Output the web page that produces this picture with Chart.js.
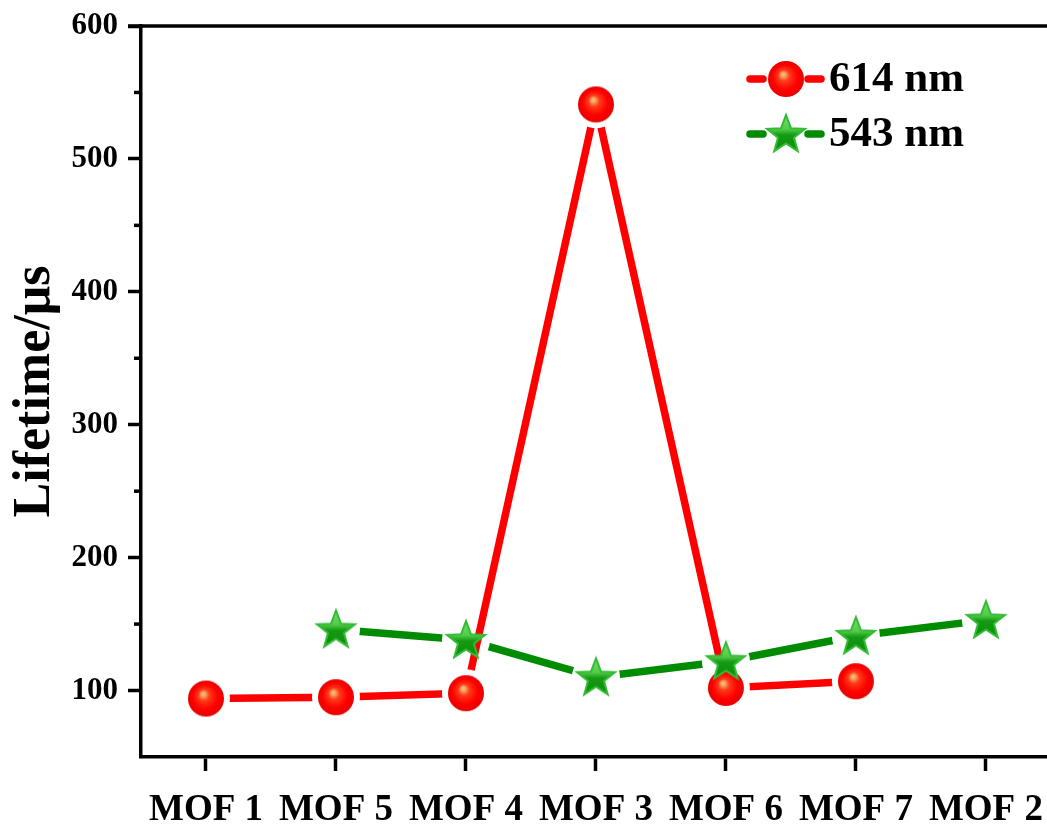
<!DOCTYPE html>
<html>
<head>
<meta charset="utf-8">
<title>Lifetime</title>
<script src="https://cdn.jsdelivr.net/npm/chart.js@4.4.1/dist/chart.umd.min.js"></script>
<style>
  html, body { margin: 0; padding: 0; background: #fff; }
  #wrap { width: 1047px; height: 828px; position: relative; }
</style>
</head>
<body>
<div id="wrap"><canvas id="lifeChart"></canvas></div>
<script>
// data
const categories = ['MOF 1', 'MOF 5', 'MOF 4', 'MOF 3', 'MOF 6', 'MOF 7', 'MOF 2'];
const red614 = [94, 95, 98, 541, 102, 107, null];
const green543 = [null, 146, 138, 110, 122, 141, 153];
const seriesNames = ['614 nm', '543 nm'];
const yTicks = [100, 200, 300, 400, 500, 600];

const FONT = '"Liberation Serif", "Times New Roman", serif';
const RED = '#ff0000';
const GREEN = '#008c00';

// marker images
function makeSphere(r) {
  const c = document.createElement('canvas');
  c.width = c.height = r * 2 + 2;
  const g = c.getContext('2d');
  const cx = r + 1, cy = r + 1;
  const grad = g.createRadialGradient(cx - 3, cy - 5, 0, cx, cy, r);
  grad.addColorStop(0, '#f4cc72');
  grad.addColorStop(0.13, '#f7a062');
  grad.addColorStop(0.32, '#ff3a18');
  grad.addColorStop(0.7, '#ff0000');
  grad.addColorStop(1, '#e80000');
  g.fillStyle = grad;
  g.beginPath();
  g.arc(cx, cy, r, 0, Math.PI * 2);
  g.fill();
  return c;
}

function makeStar(R) {
  const c = document.createElement('canvas');
  c.width = c.height = R * 2 + 4;
  const g = c.getContext('2d');
  const cx = R + 2, cy = R + 3;
  const r = R * 0.42;
  g.beginPath();
  for (let i = 0; i < 10; i++) {
    const a = -Math.PI / 2 + i * Math.PI / 5;
    const rad = i % 2 === 0 ? R : r;
    const px = cx + rad * Math.cos(a), py = cy + rad * Math.sin(a);
    if (i === 0) g.moveTo(px, py); else g.lineTo(px, py);
  }
  g.closePath();
  const grad = g.createLinearGradient(0, cy - R, 0, cy + R);
  grad.addColorStop(0, '#6ee06a');
  grad.addColorStop(0.35, '#55cc4c');
  grad.addColorStop(0.5, '#149a14');
  grad.addColorStop(1, '#0a8a0a');
  g.fillStyle = grad;
  g.fill();
  g.lineWidth = 2;
  g.strokeStyle = '#33bb33';
  g.stroke();
  return c;
}

const sphereImg = makeSphere(18);
const starImg = makeStar(20);

function toPoints(arr) {
  return arr.map((v, i) => ({ x: i + 1, y: v }));
}

// cut a small gap in a series line around its own markers
const gapPlugin = {
  id: 'gapLines',
  beforeDatasetDraw(chart, args) {
    const ds = chart.data.datasets[args.index];
    if (!ds.gap) return;
    const ctx = chart.ctx;
    ctx.save();
    ctx.beginPath();
    ctx.rect(0, 0, chart.width, chart.height);
    args.meta.data.forEach(pt => {
      if (pt.skip || isNaN(pt.y)) return;
      ctx.moveTo(pt.x + ds.gap, pt.y);
      ctx.arc(pt.x, pt.y, ds.gap, 0, Math.PI * 2, true);
    });
    ctx.clip('evenodd');
  },
  afterDatasetDraw(chart, args) {
    const ds = chart.data.datasets[args.index];
    if (ds.gap) chart.ctx.restore();
  }
};

// top frame line, minor y ticks and the legend
const framePlugin = {
  id: 'frame',
  afterDraw(chart) {
    const ctx = chart.ctx;
    const area = chart.chartArea;
    const y = chart.scales.y;
    ctx.save();
    ctx.strokeStyle = '#000';
    ctx.lineWidth = 3.5;
    ctx.beginPath();
    ctx.moveTo(area.left - 13, area.top);
    ctx.lineTo(chart.width, area.top);
    ctx.stroke();
    // minor ticks
    for (let v = 150; v < 600; v += 100) {
      const py = y.getPixelForValue(v);
      ctx.beginPath();
      ctx.moveTo(area.left - 7, py);
      ctx.lineTo(area.left, py);
      ctx.stroke();
    }
    // legend
    const rows = [
      { name: seriesNames[0], color: RED, img: sphereImg, y: 79 },
      { name: seriesNames[1], color: GREEN, img: starImg, y: 134 }
    ];
    ctx.lineCap = 'round';
    ctx.lineWidth = 7.5;
    rows.forEach(row => {
      ctx.strokeStyle = row.color;
      ctx.beginPath();
      ctx.moveTo(750, row.y); ctx.lineTo(763, row.y);
      ctx.moveTo(808, row.y); ctx.lineTo(821, row.y);
      ctx.stroke();
      ctx.drawImage(row.img, 786 - row.img.width / 2, row.y - row.img.height / 2);
      ctx.fillStyle = '#000';
      ctx.font = 'bold 43px ' + FONT;
      ctx.textBaseline = 'middle';
      ctx.textAlign = 'left';
      ctx.fillText(row.name, 829, row.y + 1);
    });
    ctx.restore();
  }
};

const ctx = document.getElementById('lifeChart').getContext('2d');
new Chart(ctx, {
  type: 'line',
  data: {
    datasets: [
      {
        label: seriesNames[1] + ' points',
        data: toPoints(green543),
        showLine: false,
        pointStyle: starImg,
        pointRadius: 20
      },
      {
        label: seriesNames[0] + ' points',
        data: toPoints(red614),
        showLine: false,
        pointStyle: sphereImg,
        pointRadius: 18
      },
      {
        label: seriesNames[0],
        data: toPoints(red614),
        borderColor: RED,
        borderWidth: 7.5,
        borderCapStyle: 'round',
        pointRadius: 0,
        tension: 0,
        gap: 24
      },
      {
        label: seriesNames[1],
        data: toPoints(green543),
        borderColor: GREEN,
        borderWidth: 7.5,
        borderCapStyle: 'round',
        pointRadius: 0,
        tension: 0,
        gap: 24
      }
    ]
  },
  options: {
    responsive: true,
    maintainAspectRatio: false,
    animation: false,
    events: [],
    layout: { autoPadding: false, padding: { top: 26, right: 0, left: 0, bottom: 0 } },
    plugins: {
      legend: { display: false },
      tooltip: { enabled: false }
    },
    scales: {
      x: {
        type: 'linear',
        min: 0.5,
        max: 7.47,
        afterBuildTicks(scale) {
          scale.ticks = categories.map((c, i) => ({ value: i + 1 }));
        },
        afterFit(scale) {
          scale.height = 71;
          scale.paddingLeft = 0;
          scale.paddingRight = 0;
        },
        border: { display: true, color: '#000', width: 3.5 },
        grid: { drawOnChartArea: false, tickLength: 14, tickWidth: 3.5, tickColor: '#000' },
        ticks: {
          autoSkip: false,
          maxRotation: 0,
          padding: 17,
          color: '#000',
          font: { family: FONT, size: 37, weight: 'bold' },
          callback: v => categories[Math.round(v) - 1]
        }
      },
      y: {
        min: 50,
        max: 600,
        afterBuildTicks(scale) {
          scale.ticks = yTicks.map(v => ({ value: v }));
        },
        afterFit(scale) {
          scale.width = 141;
          scale.paddingTop = 0;
          scale.paddingBottom = 0;
        },
        border: { display: true, color: '#000', width: 3.5 },
        grid: { drawOnChartArea: false, tickLength: 13, tickWidth: 3.5, tickColor: '#000' },
        ticks: {
          padding: 10,
          color: '#000',
          font: { family: FONT, size: 31, weight: 'bold' }
        },
        title: {
          display: true,
          text: 'Lifetime/μs',
          color: '#000',
          padding: { top: 4, bottom: 0 },
          font: { family: FONT, size: 52, weight: 'bold' }
        }
      }
    }
  },
  plugins: [gapPlugin, framePlugin]
});
</script>
</body>
</html>
